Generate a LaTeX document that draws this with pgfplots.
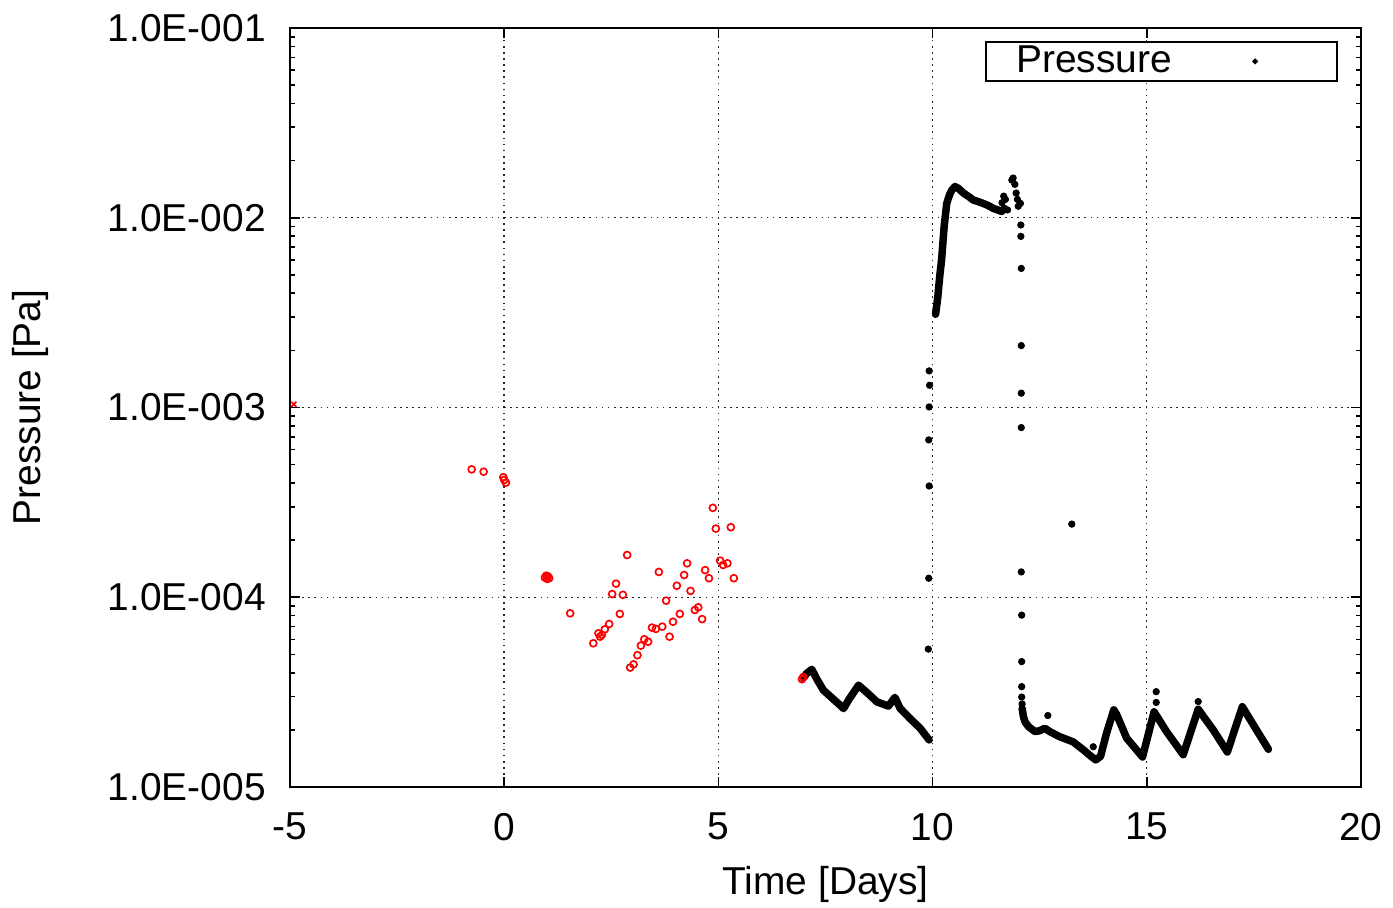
\documentclass[border=0pt]{standalone}
\usepackage{fontspec}
\setmainfont{Liberation Sans}
\usepackage{pgfplots}
\pgfplotsset{compat=1.18}
\newcommand{\lf}{\fontsize{14}{16}\selectfont}
\begin{document}
\begin{tikzpicture}
\begin{semilogyaxis}[
  scale only axis, width=385.56pt, height=273.24pt,
  xmin=-5, xmax=20, ymin=1e-5, ymax=1e-1,
  xtick={-5,0,5,10,15,20}, xticklabels={-5,0,5,10,15,20},
  ytick={1e-5,1e-4,1e-3,1e-2,1e-1},
  yticklabels={1.0E-005,1.0E-004,1.0E-003,1.0E-002,1.0E-001},
  tick label style={font=\lf},
  xticklabel style={yshift=-5.8pt},
  yticklabel style={xshift=-5.2pt},
  label style={font=\lf},
  xlabel={Time [Days]}, ylabel={Pressure [Pa]},
  xlabel style={at={(axis description cs:0.5,-0.129)}, anchor=center},
  ylabel style={at={(axis description cs:-0.2428,0.5)}, anchor=center},
  grid=major,
  major grid style={black!85, line width=0.5pt, dash pattern=on 0.6pt off 1.6pt},
  axis line style={line width=0.7pt},
  tick style={black, line width=0.6pt},
  major tick length=3.6pt, minor tick length=1.8pt,
  clip=false,
  legend plot pos=right,
  legend cell align=left,
  legend style={at={(0.9785,0.983)}, anchor=north east, draw=black, line width=0.6pt,
    font=\lf, inner sep=0pt, nodes={inner xsep=2pt, inner ysep=1.5pt}},
]
% segment 1 (thick dense trace)
\addplot[black, line width=2.7pt, line join=round, line cap=round, forget plot] coordinates {
(6.98,3.74e-5) (7.05,3.95e-5) (7.18,4.17e-5) (7.30,3.70e-5) (7.45,3.24e-5) (7.65,2.95e-5) (7.84,2.70e-5) (7.92,2.59e-5)
(8.05,2.90e-5) (8.27,3.44e-5) (8.50,3.10e-5) (8.70,2.81e-5) (8.97,2.67e-5) (9.12,2.97e-5)
(9.24,2.60e-5) (9.47,2.30e-5) (9.71,2.04e-5) (9.92,1.77e-5)};
% segment 2
\addplot[black, line width=2.7pt, line join=round, line cap=round, forget plot] coordinates {
(10.07,3.1e-3) (10.12,3.8e-3) (10.17,5.0e-3) (10.21,6.0e-3) (10.27,9.0e-3) (10.33,1.19e-2) (10.40,1.33e-2)
(10.45,1.40e-2) (10.52,1.46e-2) (10.60,1.43e-2) (10.72,1.35e-2) (10.85,1.29e-2) (10.95,1.24e-2)
(11.05,1.22e-2) (11.18,1.19e-2) (11.30,1.16e-2) (11.42,1.12e-2) (11.52,1.10e-2) (11.61,1.08e-2) (11.68,1.12e-2)};
% segment 3
\addplot[black, line width=2.7pt, line join=round, line cap=round, forget plot] coordinates {
(12.09,2.6e-5) (12.12,2.35e-5) (12.16,2.2e-5) (12.24,2.08e-5) (12.39,1.96e-5) (12.50,1.98e-5) (12.62,2.04e-5)
(12.75,1.95e-5) (12.97,1.84e-5) (13.28,1.73e-5) (13.52,1.57e-5) (13.70,1.45e-5) (13.81,1.39e-5)
(13.92,1.45e-5) (14.06,1.92e-5) (14.23,2.55e-5) (14.30,2.40e-5) (14.53,1.81e-5) (14.90,1.44e-5)
(15.17,2.49e-5) (15.46,1.96e-5) (15.85,1.48e-5) (16.20,2.57e-5) (16.55,2.00e-5) (16.88,1.53e-5)
(17.23,2.65e-5) (17.56,2.00e-5) (17.84,1.58e-5)};
% isolated black points
\addplot[only marks, mark=*, mark size=1.1pt, black,
  legend image code/.code={\path[draw=none,fill=none] (0pt,-2pt) rectangle (57.5pt,2pt); \fill[black] (28pt,0pt) circle (0.7pt);}]
coordinates {
(9.90,5.33e-5) (9.91,1.26e-4) (9.92,3.86e-4) (9.91,6.75e-4) (9.92,1.007e-3) (9.93,1.31e-3) (9.92,1.56e-3)
(11.62,1.20e-2) (11.66,1.30e-2) (11.70,1.25e-2) (11.75,1.10e-2) (11.85,1.58e-2) (11.88,1.62e-2)
(11.92,1.50e-2) (11.95,1.35e-2) (11.98,1.25e-2) (12.00,1.15e-2)
(12.05,1.19e-2) (12.06,9.16e-3) (12.06,7.98e-3) (12.07,5.41e-3) (12.07,2.12e-3) (12.07,1.19e-3)
(12.07,7.84e-4) (12.07,1.36e-4) (12.08,8.05e-5) (12.08,4.58e-5) (12.08,3.38e-5) (12.08,2.98e-5)
(12.09,2.74e-5) (13.25,2.43e-4)
(12.69,2.38e-5) (13.75,1.63e-5) (15.22,3.18e-5) (15.22,2.79e-5) (16.20,2.82e-5)};
\addlegendentry{\hspace*{9pt}Pressure}
% red points
\addplot[only marks, mark=o, mark size=1.25pt, red, line width=0.6pt, forget plot] coordinates {
(-0.76,4.72e-4) (-0.48,4.59e-4) (-0.02,4.29e-4) (0.00,4.15e-4) (0.04,4.02e-4)
(0.95,1.27e-4) (0.98,1.30e-4) (1.00,1.25e-4) (1.02,1.29e-4) (1.05,1.26e-4)
(1.54,8.23e-5) (2.08,5.72e-5) (2.20,6.46e-5) (2.24,6.20e-5) (2.28,6.33e-5) (2.35,6.78e-5) (2.45,7.23e-5)
(2.52,1.04e-4) (2.61,1.18e-4) (2.70,8.17e-5) (2.77,1.03e-4) (2.87,1.67e-4) (2.94,4.26e-5) (3.02,4.43e-5)
(3.11,4.95e-5) (3.19,5.56e-5) (3.27,6.01e-5) (3.36,5.83e-5) (3.45,6.92e-5) (3.54,6.81e-5) (3.61,1.36e-4)
(3.69,7.00e-5) (3.78,9.60e-5) (3.86,6.20e-5) (3.94,7.43e-5) (4.03,1.15e-4) (4.10,8.17e-5) (4.20,1.31e-4)
(4.27,1.51e-4) (4.35,1.08e-4) (4.45,8.57e-5) (4.53,8.85e-5) (4.62,7.67e-5) (4.69,1.39e-4) (4.78,1.26e-4)
(4.87,2.96e-4) (4.94,2.30e-4) (5.04,1.56e-4) (5.11,1.48e-4) (5.21,1.51e-4) (5.29,2.34e-4) (5.36,1.26e-4)
(6.95,3.70e-5) (6.98,3.80e-5)};
\addplot[only marks, mark=x, mark size=1.3pt, red, line width=0.6pt, forget plot] coordinates {(-4.91,1.04e-3)};
\end{semilogyaxis}
\pgfresetboundingbox
\path (-104.4pt,-43.56pt) rectangle (397.08pt,283.32pt);
\end{tikzpicture}
\end{document}
